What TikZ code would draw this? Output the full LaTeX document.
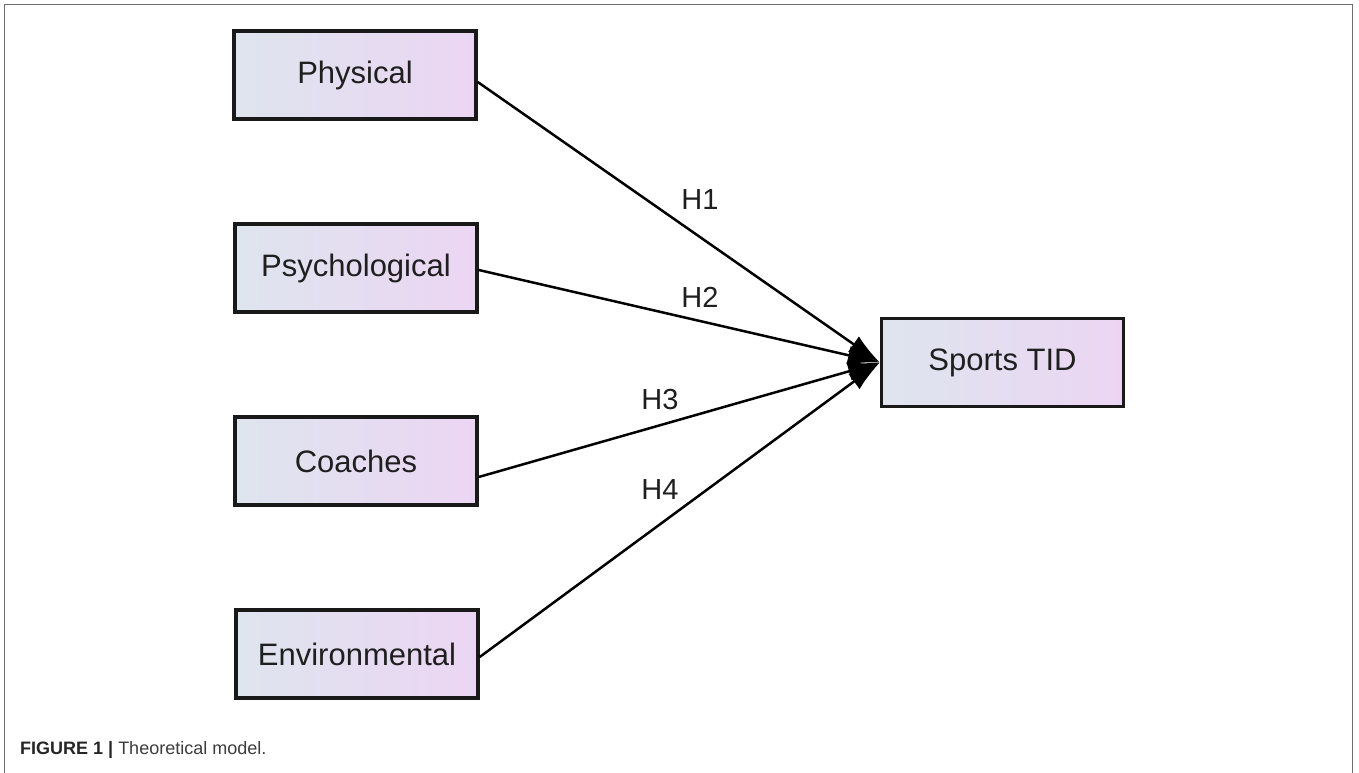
\documentclass[tikz,border=0pt]{standalone}
\usepackage{fontspec}
\setmainfont{Liberation Sans}
\usepackage{tikz}
\usetikzlibrary{arrows.meta}
\definecolor{boxleft}{RGB}{222,229,238}
\definecolor{boxright}{RGB}{236,213,243}
\definecolor{framegray}{RGB}{110,110,110}
\definecolor{captext}{RGB}{60,60,60}

\begin{document}
\begin{tikzpicture}[x=1pt,y=1pt]
\tikzstyle{factor}=[draw=black!90,rectangle,line width=3.4pt,left color=boxleft,right color=boxright,minimum width=242pt,minimum height=88pt,inner sep=0pt,text=black!88,font=\fontsize{31}{37}\selectfont]
\tikzstyle{hypo}=[font=\fontsize{29}{35}\selectfont,text=black!88,inner sep=0pt]
\tikzstyle{path}=[line width=2.5pt,-{Latex[length=32pt,width=19pt]}]
\useasboundingbox (0,0) rectangle (1359,773);
\draw[framegray,line width=1.6pt] (4.5,0) -- (4.5,768.5) -- (1352.5,768.5) -- (1352.5,0);
\node[factor] (phys) at (355,698) {Physical};
\node[factor] (psych) at (356,505) {Psychological};
\node[factor] (coach) at (356,312) {Coaches};
\node[factor] (env) at (357,119) {Environmental};
\node[factor] (tid) at (1002.5,410.5) {Sports TID};
\draw[path] ([yshift=-7pt]phys.east) -- (tid.west);
\draw[path] ([yshift=-2pt]psych.east) -- (tid.west);
\draw[path] ([yshift=-16pt]coach.east) -- (tid.west);
\draw[path] ([yshift=-3pt]env.east) -- (tid.west);
\node[hypo] (h1) at (700,573) {H1};
\node[hypo] (h2) at (700,476) {H2};
\node[hypo] (h3) at (660,373) {H3};
\node[hypo] (h4) at (660,283) {H4};
\node[anchor=west,inner sep=0pt,font=\fontsize{18}{22}\selectfont] (cap) at (20,23)
    {\textcolor{black!85}{\textbf{FIGURE 1 |}} \textcolor{captext}{Theoretical model.}};
\end{tikzpicture}
\end{document}
